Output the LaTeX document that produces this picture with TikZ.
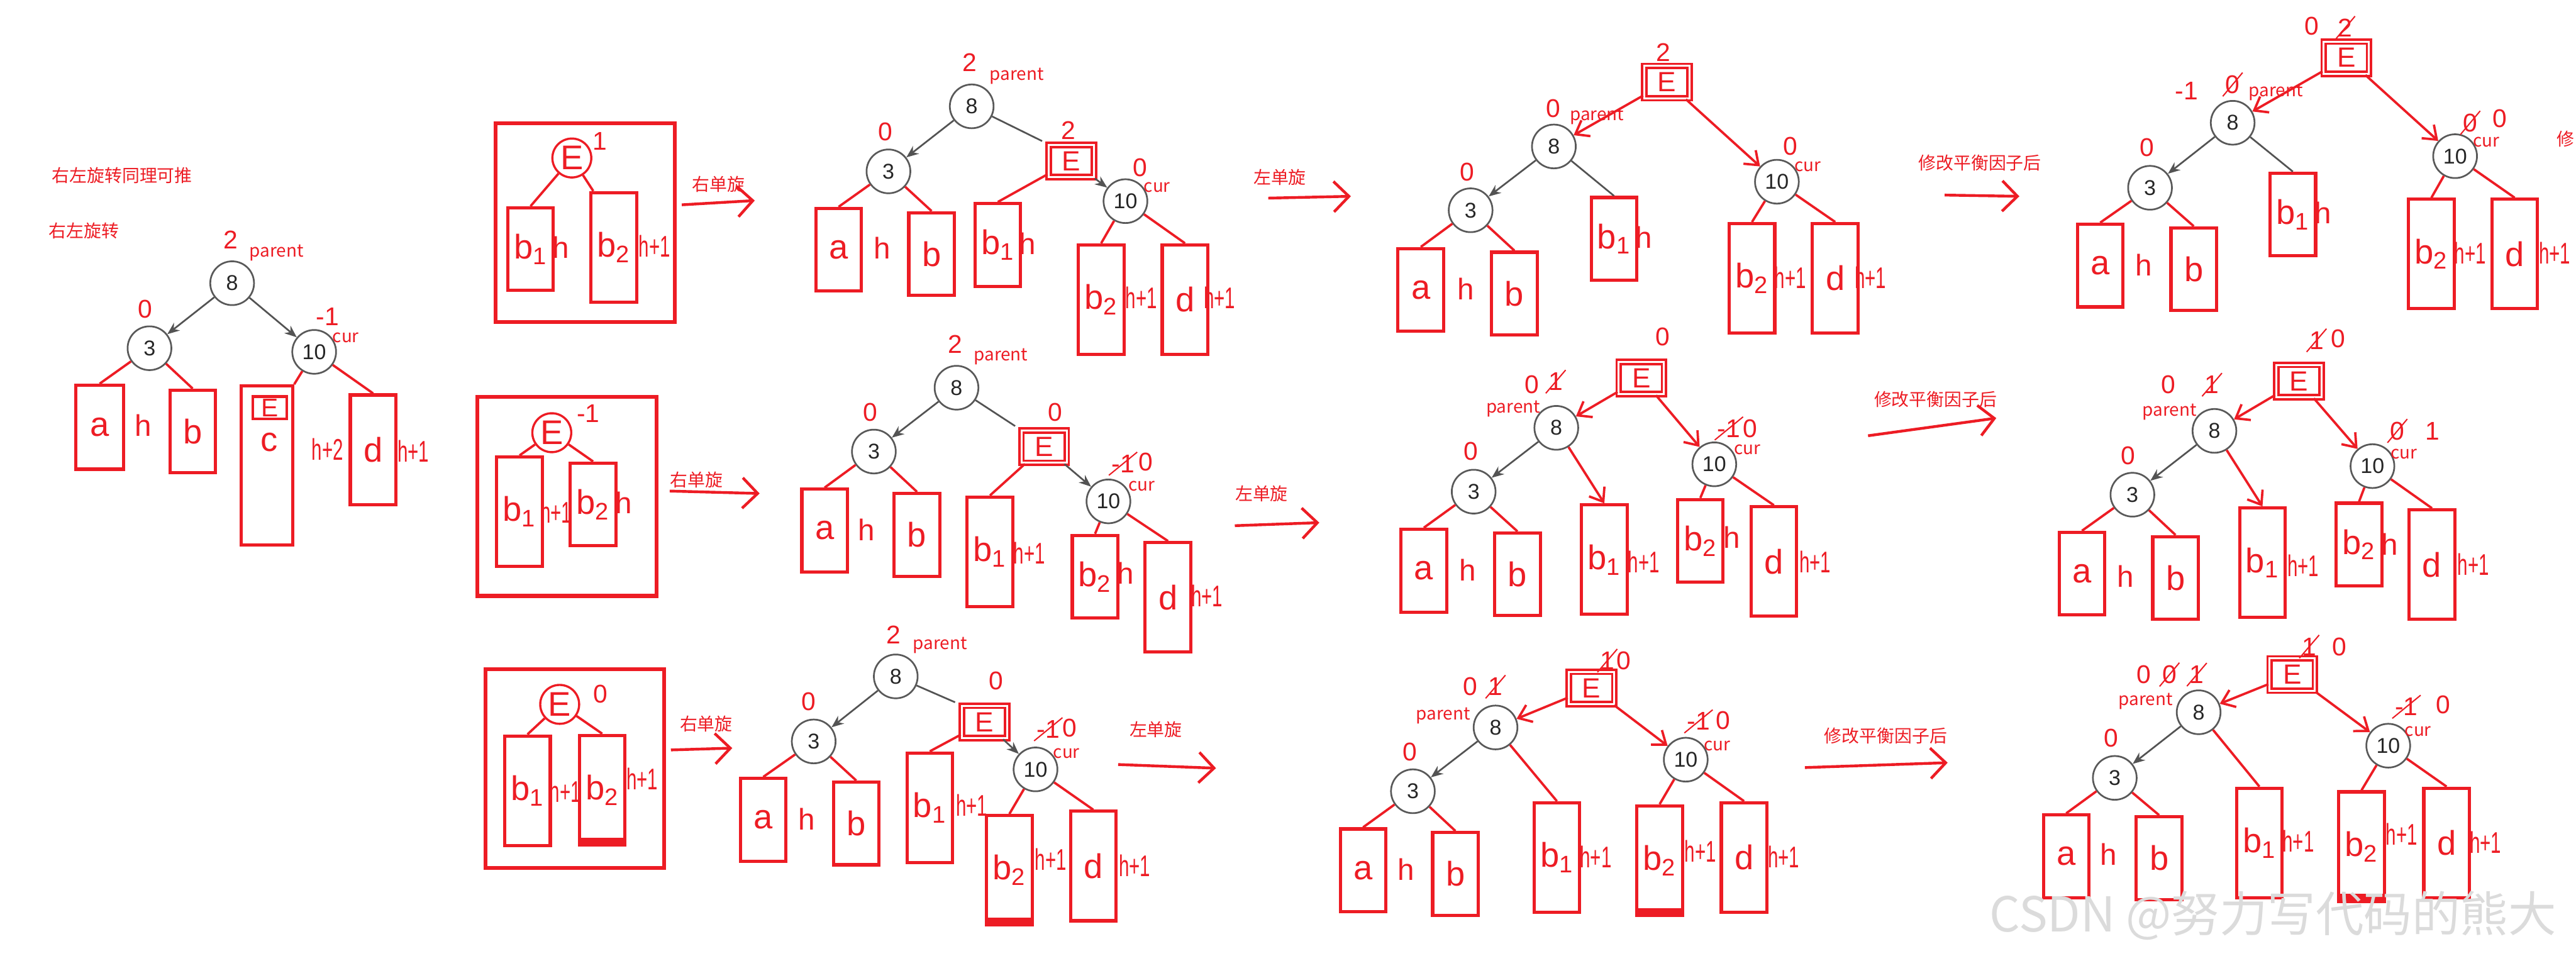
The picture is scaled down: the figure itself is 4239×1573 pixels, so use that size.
\documentclass[tikz,border=0pt]{standalone}
\usepackage{graphicx}
\usepackage{fontspec}
\setmainfont{Liberation Sans}
\newfontfamily\cjk{Noto Sans CJK SC}
\usetikzlibrary{arrows.meta,shapes.misc}
\definecolor{pen}{RGB}{237,28,36}
\newcommand\tagfont{\cjk\fontsize{8.2}{10}\selectfont}
\newcommand\numfont{\fontsize{10}{12}\selectfont}
\newcommand\handfont{\fontsize{16}{16}\selectfont}
\newcommand\htfont{\fontsize{14}{14}\selectfont}
\newcommand\facfont{\fontsize{12}{12}\selectfont}
\newcommand\nrw[1]{\scalebox{0.62}[1]{#1}}

\begin{document}
\begin{tikzpicture}[x=0.01cm,y=-0.01cm,
  vtx/.style={circle,draw=gray!70!black,line width=0.8pt,minimum size=7.2mm,inner sep=0pt,text=gray!30!black,font=\numfont},
  blk/.style={draw=pen,line width=1.5pt,minimum width=7.5mm,minimum height=13.6mm,inner sep=0pt,text=pen,font=\handfont},
  tall/.style={minimum height=18mm},
  filledbase/.style={path picture={\fill[pen] (path picture bounding box.south west) rectangle ([yshift=1.2mm]path picture bounding box.south east);}},
  ebox/.style={draw=pen,line width=1.1pt,double=white,double distance=0.3mm,minimum width=7.45mm,minimum height=5.3mm,inner sep=0pt,text=pen,font=\fontsize{13}{13}\selectfont},
  ecirc/.style={circle,draw=pen,line width=1pt,minimum size=6.4mm,inner sep=0pt,text=pen,font=\handfont},
  subtree/.style={draw=pen,line width=1.8pt,minimum width=29.4mm,minimum height=32.7mm},
  lbl/.style={text=pen,font=\tagfont,inner sep=0pt},
  hand/.style={text=pen,font=\handfont,inner sep=0pt},
  hgt/.style={text=pen,font=\htfont,inner sep=0pt},
  fac/.style={text=pen,font=\facfont,inner sep=0pt},
  facx/.style={fac,strike out,draw=pen,line width=0.6pt,inner sep=1pt},
  lnk/.style={draw=gray!65!black,line width=0.8pt},
  ptr/.style={lnk,-{Stealth[length=2mm,width=1.6mm]}},
  ink/.style={draw=pen,line width=1.1pt},
  inkptr/.style={ink,-{Straight Barb[length=2mm,width=3mm]}},
  stagearrow/.style={draw=pen,line width=1.3pt,-{Straight Barb[length=2.5mm,width=5mm]}}]
\fill[white] (0,0) rectangle (4239,1573);
\useasboundingbox (0,0) rectangle (4239,1573);

% starting tree
\node[lbl] (title) at (201,289) {右左旋转同理可推};
\node[lbl] (subtitle) at (138,380) {右左旋转};
\node[vtx] (L8) at (382,466) {8};
\node[vtx] (L3) at (246,573) {3};
\node[vtx] (L10) at (517,579) {10};
\node[fac] (L8f) at (380,395) {2};
\node[lbl] (L8p) at (455,416) {parent};
\node[fac] (L3f) at (239,509) {0};
\node[fac] (L10f) at (539,521) {-1};
\node[lbl] (L10c) at (569,556) {cur};
\node[blk,minimum width=7.9mm,minimum height=13.8mm] (La) at (164,703) {a};
\node[hgt] (Lha) at (236,700) {h};
\node[blk] (Lb) at (317,710) {b};
\node[blk,minimum width=8.5mm,minimum height=26.2mm] (Lc) at (439,766) {};
\node[blk,line width=1.2pt,minimum width=5.5mm,minimum height=3.7mm,font=\facfont] (LcE) at (444,671) {E};
\node[hand] (Lcl) at (443,728) {c};
\node[hgt] (Lhc) at (539,739) {\nrw{h+2}};
\node[blk,tall] (Ld) at (614,740) {d};
\node[hgt] (Lhd) at (680,742) {\nrw{h+1}};
\draw[ptr] (L8) -- (L3);
\draw[ptr] (L8) -- (L10);
\draw[ink] (L3) -- (La.north);
\draw[ink] (L3) -- (Lb.north);
\draw[ink] (L10) -- (Lc.north east);
\draw[ink] (L10) -- (Ld.north);

% row 1: subtree E with bf 1
\node[subtree] (T0) at (963,366) {};
\node[ecirc] (T0E) at (941,260) {E};
\node[fac] (T0Ef) at (987,232) {1};
\node[blk] (T0b1) at (873,410) {b\textsubscript{1}};
\node[hgt] (T0h1) at (923,407) {h};
\node[blk,tall] (T0b2) at (1010,407) {b\textsubscript{2}};
\node[hgt] (T0h2) at (1077,405) {\nrw{h+1}};
\draw[ink] (T0E) -- (T0b1.north);
\draw[ink] (T0E) -- (T0b2.110);
\node[lbl] (T0r) at (1182,303) {右单旋};
\coordinate (T0s) at (1122,337);
\coordinate (T0t) at (1242,330);
\draw[stagearrow] (T0s) -- (T0t);

\node[vtx] (TA8) at (1599,175) {8};
\node[fac] (TA8f) at (1596,103) {2};
\node[lbl] (TA8p) at (1673,125) {parent};
\node[vtx] (TA3) at (1462,282) {3};
\node[fac] (TA3f) at (1457,217) {0};
\node[ebox] (TAE) at (1763,265) {E};
\node[fac] (TAEf) at (1758,215) {2};
\node[vtx] (TA10) at (1852,331) {10};
\node[fac] (TA10f) at (1876,276) {0};
\node[lbl] (TA10c) at (1904,308) {cur};
\node[blk] (TAa) at (1380,411) {a};
\node[hgt] (TAha) at (1452,408) {h};
\node[blk] (TAb) at (1533,418) {b};
\node[blk] (TAb1) at (1642,403) {b\textsubscript{1}};
\node[hgt] (TAh1) at (1691,401) {h};
\node[blk,tall] (TAb2) at (1812,493) {b\textsubscript{2}};
\node[hgt] (TAh2) at (1878,490) {\nrw{h+1}};
\node[blk,tall] (TAd) at (1950,493) {d};
\node[hgt] (TAhd) at (2007,490) {\nrw{h+1}};
\draw[ptr] (TA8) -- (TA3);
\draw[lnk,shorten >=1mm] (TA8) -- (TAE.north west);
\draw[ptr] (TAE) -- (TA10);
\draw[ink] (TA3) -- (TAa.north);
\draw[ink] (TA3) -- (TAb.north);
\draw[ink] (TAE) -- (TAb1.north);
\draw[ink] (TA10) -- (TAb2.north);
\draw[ink] (TA10) -- (TAd.north);
\node[lbl] (TAl) at (2106,292) {左单旋};
\coordinate (TAs) at (2087,326);
\coordinate (TAt) at (2223,323);
\draw[stagearrow] (TAs) -- (TAt);

\node[ebox] (TBE) at (2743,135) {E};
\node[fac] (TBEf) at (2737,86) {2};
\node[vtx] (TB8) at (2557,241) {8};
\node[fac] (TB8f) at (2556,178) {0};
\node[lbl] (TB8p) at (2628,191) {parent};
\node[vtx] (TB3) at (2420,346) {3};
\node[fac] (TB3f) at (2414,283) {0};
\node[vtx] (TB10) at (2924,299) {10};
\node[fac] (TB10f) at (2946,241) {0};
\node[lbl] (TB10c) at (2975,274) {cur};
\node[blk] (TBa) at (2338,477) {a};
\node[hgt] (TBha) at (2412,475) {h};
\node[blk] (TBb) at (2492,483) {b};
\node[blk] (TBb1) at (2656,393) {b\textsubscript{1}};
\node[hgt] (TBh1) at (2705,390) {h};
\node[blk,tall] (TBb2) at (2883,458) {b\textsubscript{2}};
\node[hgt] (TBh2) at (2946,457) {\nrw{h+1}};
\node[blk,tall] (TBd) at (3020,458) {d};
\node[hgt] (TBhd) at (3078,457) {\nrw{h+1}};
\draw[inkptr] (TBE) -- (TB8);
\draw[inkptr] (TBE) -- (TB10);
\draw[ptr] (TB8) -- (TB3);
\draw[lnk] (TB8) -- (TBb1.north);
\draw[ink] (TB3) -- (TBa.north);
\draw[ink] (TB3) -- (TBb.north);
\draw[ink] (TB10) -- (TBb2.north);
\draw[ink] (TB10) -- (TBd.north);
\node[lbl] (TBl) at (3258,268) {修改平衡因子后};
\coordinate (TBs) at (3200,321);
\coordinate (TBt) at (3323,323);
\draw[stagearrow] (TBs) -- (TBt);

\node[ebox] (TCE) at (3861,95) {E};
\node[fac] (TCEf) at (3804,43) {0};
\node[facx] (TCEx) at (3859,46) {2};
\node[vtx] (TC8) at (3674,202) {8};
\node[fac] (TC8f) at (3598,150) {-1};
\node[facx] (TC8x) at (3674,139) {0};
\node[lbl] (TC8p) at (3745,152) {parent};
\node[vtx] (TC3) at (3538,309) {3};
\node[fac] (TC3f) at (3533,243) {0};
\node[vtx] (TC10) at (4040,257) {10};
\node[facx] (TC10x) at (4065,202) {0};
\node[fac] (TC10f) at (4114,195) {0};
\node[lbl] (TC10c) at (4091,234) {cur};
\node[blk] (TCa) at (3456,437) {a};
\node[hgt] (TCha) at (3528,436) {h};
\node[blk] (TCb) at (3610,443) {b};
\node[blk] (TCb1) at (3773,353) {b\textsubscript{1}};
\node[hgt] (TCh1) at (3823,350) {h};
\node[blk,tall] (TCb2) at (4001,418) {b\textsubscript{2}};
\node[hgt] (TCh2) at (4065,416) {\nrw{h+1}};
\node[blk,tall] (TCd) at (4138,418) {d};
\node[hgt] (TChd) at (4204,416) {\nrw{h+1}};
\node[lbl] (TCcut) at (4222,229) {修};
\draw[inkptr] (TCE) -- (TC8);
\draw[inkptr] (TCE) -- (TC10);
\draw[ptr] (TC8) -- (TC3);
\draw[lnk] (TC8) -- (TCb1.north);
\draw[ink] (TC3) -- (TCa.north);
\draw[ink] (TC3) -- (TCb.north);
\draw[ink] (TC10) -- (TCb2.north);
\draw[ink] (TC10) -- (TCd.north);

% row 2: subtree E with bf -1
\node[subtree] (M0) at (933,817) {};
\node[ecirc] (M0E) at (908,712) {E};
\node[fac] (M0Ef) at (968,680) {-1};
\node[blk,tall] (M0b1) at (855,842) {b\textsubscript{1}};
\node[hgt] (M0h1) at (915,843) {\nrw{h+1}};
\node[blk] (M0b2) at (976,830) {b\textsubscript{2}};
\node[hgt] (M0h2) at (1026,827) {h};
\draw[ink] (M0E) -- (M0b1.north);
\draw[ink] (M0E) -- (M0b2.north);
\node[lbl] (M0r) at (1146,790) {右单旋};
\coordinate (M0s) at (1102,808);
\coordinate (M0t) at (1250,812);
\draw[stagearrow] (M0s) -- (M0t);

\node[vtx] (M18) at (1574,638) {8};
\node[fac] (M18f) at (1572,566) {2};
\node[lbl] (M18p) at (1647,587) {parent};
\node[vtx] (M13) at (1438,743) {3};
\node[fac] (M13f) at (1432,678) {0};
\node[ebox] (M1E) at (1718,735) {E};
\node[fac] (M1Ef) at (1736,678) {0};
\node[vtx] (M110) at (1824,825) {10};
\node[facx] (M110x) at (1848,763) {-1};
\node[fac] (M110f) at (1885,760) {0};
\node[lbl] (M110c) at (1879,800) {cur};
\node[blk] (M1a) at (1357,873) {a};
\node[hgt] (M1ha) at (1426,872) {h};
\node[blk] (M1b) at (1509,880) {b};
\node[blk,tall] (M1b1) at (1629,908) {b\textsubscript{1}};
\node[hgt] (M1h1) at (1694,910) {\nrw{h+1}};
\node[blk] (M1b2) at (1802,949) {b\textsubscript{2}};
\node[hgt] (M1h2) at (1852,943) {h};
\node[blk,tall] (M1d) at (1922,983) {d};
\node[hgt] (M1hd) at (1986,980) {\nrw{h+1}};
\draw[ptr] (M18) -- (M13);
\draw[lnk,shorten >=1mm] (M18) -- (M1E.north west);
\draw[ptr] (M1E) -- (M110);
\draw[ink] (M13) -- (M1a.north);
\draw[ink] (M13) -- (M1b.north);
\draw[ink] (M1E) -- (M1b1.north);
\draw[ink] (M110) -- (M1b2.north);
\draw[ink] (M110) -- (M1d.north);
\node[lbl] (M1l) at (2076,812) {左单旋};
\coordinate (M1s) at (2032,865);
\coordinate (M1t) at (2171,860);
\draw[stagearrow] (M1s) -- (M1t);

\node[ebox] (M2E) at (2701,622) {E};
\node[fac] (M2Ef) at (2736,554) {0};
\node[vtx] (M28) at (2561,704) {8};
\node[fac] (M28f) at (2521,633) {0};
\node[facx] (M28x) at (2560,628) {1};
\node[lbl] (M28p) at (2490,673) {parent};
\node[vtx] (M23) at (2425,809) {3};
\node[fac] (M23f) at (2420,743) {0};
\node[vtx] (M210) at (2821,764) {10};
\node[facx] (M210x) at (2845,705) {-1};
\node[fac] (M210f) at (2880,705) {0};
\node[lbl] (M210c) at (2875,740) {cur};
\node[blk] (M2a) at (2343,939) {a};
\node[hgt] (M2ha) at (2415,938) {h};
\node[blk] (M2b) at (2497,945) {b};
\node[blk,tall] (M2b1) at (2640,921) {b\textsubscript{1}};
\node[hgt] (M2h1) at (2705,924) {\nrw{h+1}};
\node[blk] (M2b2) at (2798,890) {b\textsubscript{2}};
\node[hgt] (M2h2) at (2850,884) {h};
\node[blk,tall] (M2d) at (2919,924) {d};
\node[hgt] (M2hd) at (2987,924) {\nrw{h+1}};
\draw[inkptr] (M2E) -- (M28);
\draw[inkptr] (M2E) -- (M210);
\draw[inkptr] (M28) -- (M2b1.north);
\draw[ptr] (M28) -- (M23);
\draw[ink] (M23) -- (M2a.north);
\draw[ink] (M23) -- (M2b.north);
\draw[ink] (M210) -- (M2b2.north);
\draw[ink] (M210) -- (M2d.north);
\node[lbl] (M2l) at (3185,657) {修改平衡因子后};
\coordinate (M2s) at (3074,717);
\coordinate (M2t) at (3285,688);
\draw[stagearrow] (M2s) -- (M2t);

\node[ebox] (M3E) at (3783,627) {E};
\node[facx] (M3Ex) at (3812,560) {1};
\node[fac] (M3Ef) at (3848,557) {0};
\node[vtx] (M38) at (3644,709) {8};
\node[fac] (M38f) at (3568,633) {0};
\node[facx] (M38x) at (3640,633) {1};
\node[lbl] (M38p) at (3570,678) {parent};
\node[vtx] (M33) at (3509,814) {3};
\node[fac] (M33f) at (3502,750) {0};
\node[vtx] (M310) at (3904,767) {10};
\node[facx] (M310x) at (3945,709) {0};
\node[fac] (M310f) at (4003,709) {1};
\node[lbl] (M310c) at (3956,747) {cur};
\node[blk] (M3a) at (3426,944) {a};
\node[hgt] (M3ha) at (3498,948) {h};
\node[blk] (M3b) at (3580,951) {b};
\node[blk,tall] (M3b1) at (3723,926) {b\textsubscript{1}};
\node[hgt] (M3h1) at (3790,931) {\nrw{h+1}};
\node[blk] (M3b2) at (3882,896) {b\textsubscript{2}};
\node[hgt] (M3h2) at (3932,895) {h};
\node[blk,tall] (M3d) at (4002,929) {d};
\node[hgt] (M3hd) at (4070,929) {\nrw{h+1}};
\draw[inkptr] (M3E) -- (M38);
\draw[inkptr] (M3E) -- (M310);
\draw[inkptr] (M38) -- (M3b1.north);
\draw[ptr] (M38) -- (M33);
\draw[ink] (M33) -- (M3a.north);
\draw[ink] (M33) -- (M3b.north);
\draw[ink] (M310) -- (M3b2.north);
\draw[ink] (M310) -- (M3d.north);

% row 3: subtree E with bf 0
\node[subtree] (B0) at (946,1265) {};
\node[ecirc] (B0E) at (921,1159) {E};
\node[fac] (B0Ef) at (988,1142) {0};
\node[blk,tall] (B0b1) at (868,1301) {b\textsubscript{1}};
\node[hgt] (B0h1) at (930,1302) {\nrw{h+1}};
\node[blk,tall,filledbase] (B0b2) at (991,1300) {b\textsubscript{2}};
\node[hgt] (B0h2) at (1057,1281) {\nrw{h+1}};
\draw[ink] (B0E) -- (B0b1.north);
\draw[ink] (B0E) -- (B0b2.north);
\node[lbl] (B0r) at (1162,1191) {右单旋};
\coordinate (B0s) at (1104,1234);
\coordinate (B0t) at (1205,1231);
\draw[stagearrow] (B0s) -- (B0t);

\node[vtx] (B18) at (1474,1113) {8};
\node[fac] (B18f) at (1470,1045) {2};
\node[lbl] (B18p) at (1547,1062) {parent};
\node[vtx] (B13) at (1339,1220) {3};
\node[fac] (B13f) at (1331,1154) {0};
\node[ebox] (B1E) at (1620,1188) {E};
\node[fac] (B1Ef) at (1639,1120) {0};
\node[vtx] (B110) at (1704,1266) {10};
\node[facx] (B110x) at (1725,1200) {-1};
\node[fac] (B110f) at (1760,1198) {0};
\node[lbl] (B110c) at (1755,1240) {cur};
\node[blk] (B1a) at (1256,1349) {a};
\node[hgt] (B1ha) at (1327,1348) {h};
\node[blk] (B1b) at (1409,1355) {b};
\node[blk,tall] (B1b1) at (1530,1329) {b\textsubscript{1}};
\node[hgt] (B1h1) at (1599,1325) {\nrw{h+1}};
\node[blk,tall,filledbase] (B1b2) at (1661,1432) {b\textsubscript{2}};
\node[hgt] (B1h2) at (1729,1414) {\nrw{h+1}};
\node[blk,tall] (B1d) at (1799,1425) {d};
\node[hgt] (B1hd) at (1867,1424) {\nrw{h+1}};
\draw[ptr] (B18) -- (B13);
\draw[lnk,shorten >=1mm] (B18) -- (B1E.north west);
\draw[ptr] (B1E) -- (B110);
\draw[ink] (B13) -- (B1a.north);
\draw[ink] (B13) -- (B1b.north);
\draw[ink] (B1E) -- (B1b1.north);
\draw[ink] (B110) -- (B1b2.north);
\draw[ink] (B110) -- (B1d.north);
\node[lbl] (B1l) at (1902,1200) {左单旋};
\coordinate (B1s) at (1840,1258);
\coordinate (B1t) at (2001,1264);
\draw[stagearrow] (B1s) -- (B1t);

\node[ebox] (B2E) at (2619,1132) {E};
\node[facx] (B2Ex) at (2645,1087) {1};
\node[fac] (B2Ef) at (2672,1087) {0};
\node[vtx] (B28) at (2461,1197) {8};
\node[fac] (B28f) at (2419,1130) {0};
\node[facx] (B28x) at (2461,1130) {1};
\node[lbl] (B28p) at (2375,1178) {parent};
\node[vtx] (B23) at (2325,1302) {3};
\node[fac] (B23f) at (2320,1237) {0};
\node[vtx] (B210) at (2774,1250) {10};
\node[facx] (B210x) at (2795,1187) {-1};
\node[fac] (B210f) at (2835,1185) {0};
\node[lbl] (B210c) at (2826,1227) {cur};
\node[blk] (B2a) at (2243,1432) {a};
\node[hgt] (B2ha) at (2314,1430) {h};
\node[blk] (B2b) at (2395,1438) {b};
\node[blk,tall] (B2b1) at (2562,1411) {b\textsubscript{1}};
\node[hgt] (B2h1) at (2626,1410) {\nrw{h+1}};
\node[blk,tall,filledbase] (B2b2) at (2731,1416) {b\textsubscript{2}};
\node[hgt] (B2h2) at (2798,1400) {\nrw{h+1}};
\node[blk,tall] (B2d) at (2870,1411) {d};
\node[hgt] (B2hd) at (2935,1410) {\nrw{h+1}};
\draw[inkptr] (B2E) -- (B28);
\draw[inkptr] (B2E) -- (B210);
\draw[ink] (B28) -- (B2b1.north);
\draw[ptr] (B28) -- (B23);
\draw[ink] (B23) -- (B2a.north);
\draw[ink] (B23) -- (B2b.north);
\draw[ink] (B210) -- (B2b2.north);
\draw[ink] (B210) -- (B2d.north);
\node[lbl] (B2l) at (3103,1211) {修改平衡因子后};
\coordinate (B2s) at (2970,1263);
\coordinate (B2t) at (3205,1255);
\draw[stagearrow] (B2s) -- (B2t);

\node[ebox] (B3E) at (3772,1110) {E};
\node[facx] (B3Ex) at (3800,1064) {1};
\node[fac] (B3Ef) at (3850,1064) {0};
\node[vtx] (B38) at (3618,1172) {8};
\node[fac] (B38f) at (3528,1110) {0};
\node[facx] (B38x) at (3570,1110) {0};
\node[facx] (B38y) at (3615,1110) {1};
\node[lbl] (B38p) at (3531,1154) {parent};
\node[vtx] (B33) at (3480,1280) {3};
\node[fac] (B33f) at (3474,1214) {0};
\node[vtx] (B310) at (3930,1227) {10};
\node[facx] (B310x) at (3960,1163) {-1};
\node[fac] (B310f) at (4020,1160) {0};
\node[lbl] (B310c) at (3979,1203) {cur};
\node[blk] (B3a) at (3400,1409) {a};
\node[hgt] (B3ha) at (3470,1406) {h};
\node[blk] (B3b) at (3553,1412) {b};
\node[blk,tall] (B3b1) at (3718,1387) {b\textsubscript{1}};
\node[hgt] (B3h1) at (3782,1384) {\nrw{h+1}};
\node[blk,tall,filledbase] (B3b2) at (3886,1393) {b\textsubscript{2}};
\node[hgt] (B3h2) at (3952,1373) {\nrw{h+1}};
\node[blk,tall] (B3d) at (4026,1387) {d};
\node[hgt] (B3hd) at (4090,1386) {\nrw{h+1}};
\draw[inkptr] (B3E) -- (B38);
\draw[inkptr] (B3E) -- (B310);
\draw[ink] (B38) -- (B3b1.north);
\draw[ptr] (B38) -- (B33);
\draw[ink] (B33) -- (B3a.north);
\draw[ink] (B33) -- (B3b.north);
\draw[ink] (B310) -- (B3b2.north);
\draw[ink] (B310) -- (B3d.north);

\node[text=gray!28,font=\cjk\fontsize{22.5}{22.5}\selectfont,inner sep=0pt] (mark) at (3740,1506) {CSDN @努力写代码的熊大};
\end{tikzpicture}
\end{document}
